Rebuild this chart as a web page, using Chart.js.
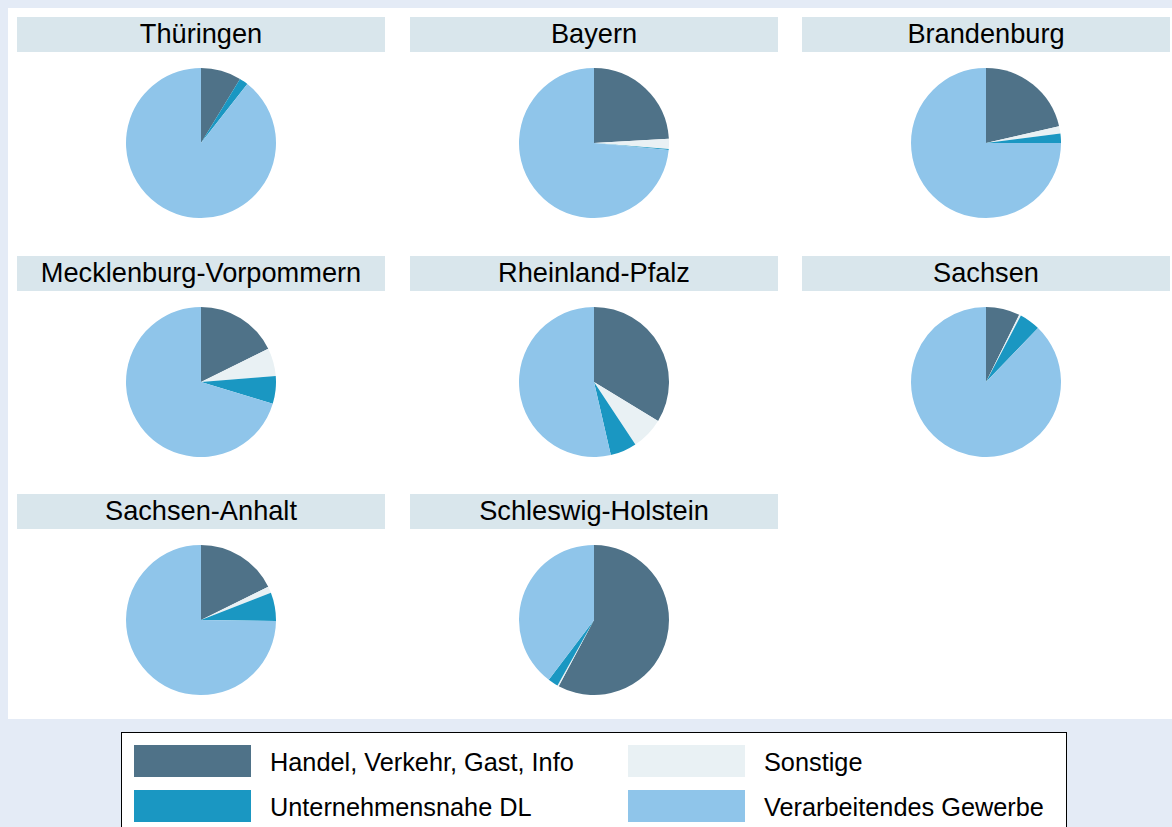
<!DOCTYPE html>
<html>
<head>
<meta charset="utf-8">
<script src="https://cdn.jsdelivr.net/npm/chart.js@4"></script>
<style>
  body { margin: 0; width: 1172px; height: 827px; background: #e4ebf6; font-family: "Liberation Sans", Arial, sans-serif; overflow: hidden; position: relative; }
  #plot { position: absolute; left: 8px; top: 8px; width: 1164px; height: 711px; background: #fff; }
  .band { position: absolute; height: 35px; width: 368px; background: #d9e6ec; color: #000; font-size: 27.2px; line-height: 34px; text-align: center; white-space: nowrap; }
  .pie { position: absolute; width: 150px; height: 150px; }
  #legend { position: absolute; left: 121px; top: 732px; width: 944px; height: 110px; background: #fff; border: 1px solid #000; }
  .sw { position: absolute; width: 117px; height: 32px; }
  .lt { position: absolute; font-size: 25.3px; line-height: 32px; color: #000; white-space: nowrap; }
</style>
</head>
<body>
<div id="plot"></div>
<div id="legend"></div>
<script>
// anteile in prozent, reihenfolge im uhrzeigersinn ab 12 uhr
const states = ['Thüringen', 'Bayern', 'Brandenburg', 'Mecklenburg-Vorpommern', 'Rheinland-Pfalz', 'Sachsen', 'Sachsen-Anhalt', 'Schleswig-Holstein'];
const handel = [8.7, 24.1, 21.4, 17.7, 33.7, 7.3, 17.7, 57.8];
const sonstige = [0.0, 2.2, 1.6, 6.0, 7.0, 0.4, 1.4, 0.3];
const dienst = [1.9, 0.2, 2.0, 6.0, 5.7, 4.5, 6.1, 2.2];
const verarb = [89.4, 73.5, 75.0, 70.3, 53.6, 87.8, 74.8, 39.7];

const labels = ['Handel, Verkehr, Gast, Info', 'Sonstige', 'Unternehmensnahe DL', 'Verarbeitendes Gewerbe'];
const colors = ['#4f7288', '#e9f1f4', '#1a97c2', '#8fc5ea'];

const colX = [17, 410, 802];
const rowY = [17, 256, 494];

states.forEach((name, i) => {
    const col = i % 3;
    const row = Math.floor(i / 3);

    const band = document.createElement('div');
    band.className = 'band';
    band.style.left = colX[col] + 'px';
    band.style.top = rowY[row] + 'px';
    band.textContent = name;
    document.body.appendChild(band);

    const cx = colX[col] + 184;
    const cy = rowY[row] + 126;
    const canvas = document.createElement('canvas');
    canvas.className = 'pie';
    canvas.style.left = (cx - 75) + 'px';
    canvas.style.top = (cy - 75) + 'px';
    document.body.appendChild(canvas);

    new Chart(canvas, {
        type: 'pie',
        data: {
            labels: labels,
            datasets: [{
                data: [handel[i], sonstige[i], dienst[i], verarb[i]],
                backgroundColor: colors,
                borderWidth: 0
            }]
        },
        options: {
            responsive: false,
            animation: false,
            plugins: { legend: { display: false }, tooltip: { enabled: false } }
        }
    });
});

// legende, zwei spalten
const legend = document.getElementById('legend');
labels.forEach((text, k) => {
    const lx = (k % 2) * 494 + 12;
    const ly = Math.floor(k / 2) * 45 + 12;
    const sw = document.createElement('div');
    sw.className = 'sw';
    sw.style.left = lx + 'px';
    sw.style.top = ly + 'px';
    sw.style.background = colors[k];
    legend.appendChild(sw);
    const t = document.createElement('div');
    t.className = 'lt';
    t.style.left = (lx + 136) + 'px';
    t.style.top = (ly + 1) + 'px';
    t.textContent = text;
    legend.appendChild(t);
});
</script>
</body>
</html>
